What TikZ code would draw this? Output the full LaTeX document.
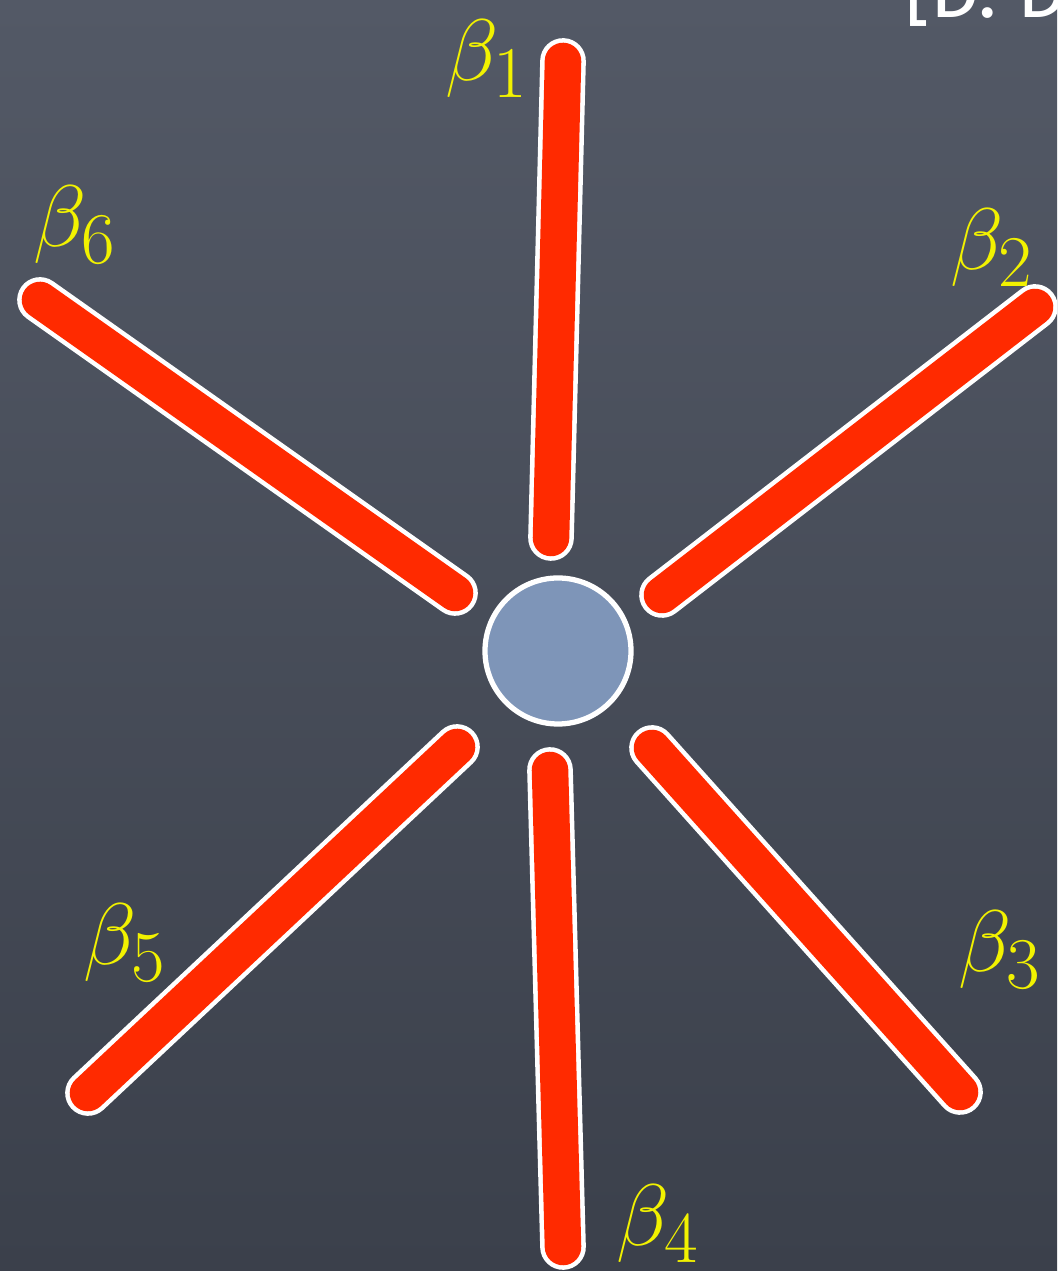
\documentclass[tikz,border=0pt]{standalone}
\usepackage{amsmath, amssymb}
\usepackage{fontspec}
\newfontfamily\boardfont{Fira Sans}
\usepackage{tikz}
\usetikzlibrary{positioning}
\usepackage{xcolor}
\definecolor{boardtop}{HTML}{535966}
\definecolor{boardbot}{HTML}{3B404B}
\definecolor{legred}{HTML}{FF2A00}
\definecolor{hubblue}{HTML}{7E95B8}
\definecolor{labyellow}{HTML}{F2F200}

\tikzset{
    leg/.style={draw=white, line width=13pt, line cap=round,
        postaction={draw=legred, line width=10.4pt, line cap=round}},
    hub/.style={circle, draw=white, line width=1.5pt, fill=hubblue,
        minimum size=1.46cm, inner sep=0pt},
    betalab/.style={text=labyellow, inner sep=0pt,
        font=\fontsize{28}{32}\selectfont}
}

\begin{document}
\begin{tikzpicture}[scale=1.0]
    \useasboundingbox (0,0) rectangle (10.57,12.71);
    \clip (0,0) rectangle (10.57,12.71);
    \shade[top color=boardtop, bottom color=boardbot] (0,0) rectangle (10.57,12.71);

    % reference text cut by the top edge
    \node[anchor=base west, inner sep=0pt, text=white,
        font=\boardfont\fontsize{22}{26}\selectfont] (ref) at (9.05, 12.53) {[D. D};

    % ends of the six legs
    \coordinate (l1out) at (5.63, 12.10);
    \coordinate (l1in)  at (5.51, 7.33);
    \coordinate (l2out) at (10.35, 9.64);
    \coordinate (l2in)  at (6.62, 6.76);
    \coordinate (l3in)  at (6.52, 5.23);
    \coordinate (l3out) at (9.60, 1.79);
    \coordinate (l4in)  at (5.50, 5.01);
    \coordinate (l4out) at (5.63, 0.24);
    \coordinate (l5in)  at (4.57, 5.24);
    \coordinate (l5out) at (0.88, 1.78);
    \coordinate (l6out) at (0.40, 9.71);
    \coordinate (l6in)  at (4.55, 6.78);

    % legs
    \draw[leg] (l1in) -- (l1out);
    \draw[leg] (l2in) -- (l2out);
    \draw[leg] (l3in) -- (l3out);
    \draw[leg] (l4in) -- (l4out);
    \draw[leg] (l5in) -- (l5out);
    \draw[leg] (l6in) -- (l6out);

    % central disc
    \node[hub] (hub) at (5.58, 6.20) {};

    % labels
    \node[betalab] (beta1) at (4.87, 12.12) {$\beta_1$};
    \node[betalab] (beta2) at (9.92, 10.23) {$\beta_2$};
    \node[betalab] (beta3) at (10.00, 3.21) {$\beta_3$};
    \node[betalab] (beta4) at (6.58, 0.47) {$\beta_4$};
    \node[betalab] (beta5) at (1.25, 3.28) {$\beta_5$};
    \node[betalab] (beta6) at (0.75, 10.46) {$\beta_6$};
\end{tikzpicture}
\end{document}
